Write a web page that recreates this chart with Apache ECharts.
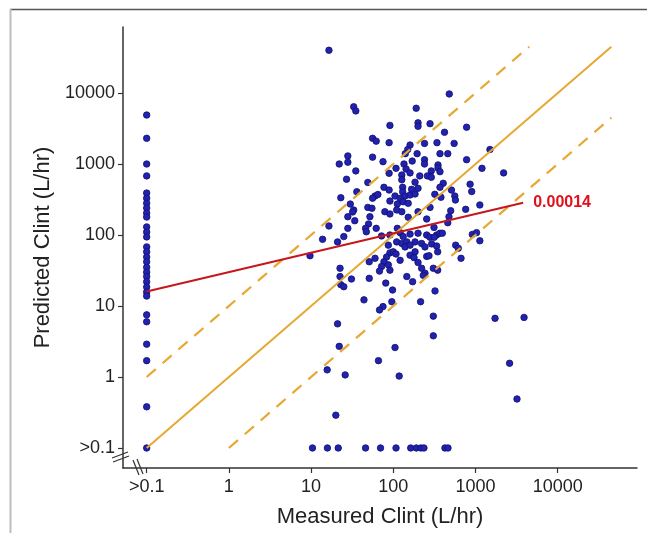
<!DOCTYPE html>
<html>
<head>
<meta charset="utf-8">
<script src="https://cdn.jsdelivr.net/npm/echarts@6/dist/echarts.min.js"></script>
<style>
html, body { margin: 0; padding: 0; background: #fff; }
#chart { width: 647px; height: 533px; }
</style>
</head>
<body>
<div id="chart"></div>
<script>
// ticks of both log axes
const tickValues = [0.1, 1, 10, 100, 1000, 10000];
const tickLabels = ['>0.1', '1', '10', '100', '1000', '10000'];

// compounds with both values measured (L/hr)
const measured = [
    16.5, 480, 33, 35, 190, 91, 200, 200, 280, 780,
    420, 56, 62, 89, 160, 240, 340, 550, 1500, 150,
    140, 195, 370, 460, 28, 56, 22, 28, 75, 170,
    240, 240, 135, 780, 350, 350, 108, 143, 160, 35,
    89, 290, 370, 1200, 2200, 127, 127, 210, 260, 290,
    27, 49, 184, 405, 370, 860, 900, 510, 77, 89,
    130, 130, 167, 200, 36, 60, 65, 56, 105, 121,
    139, 160, 184, 23, 320, 380, 560, 570, 30, 91,
    112, 132, 152, 1130, 49, 55, 33, 79, 110, 127,
    200, 280, 500, 760, 28, 34, 32, 52, 50, 46,
    91, 16.5, 28, 62, 112, 152, 47, 13.8, 25, 21,
    72, 91, 121, 132, 160, 200, 255, 110, 127, 146,
    184, 221, 139, 160, 87, 243, 91, 83, 77, 72,
    68, 100, 108, 121, 184, 160, 179, 255, 51, 60,
    9.7, 87, 91, 200, 221, 243, 22.5, 22.5, 31, 51,
    146, 172, 23, 25, 81, 98, 44, 96, 75, 68,
    21, 476, 255, 460, 313, 337, 370, 395, 279, 315,
    915, 1030, 1130, 293, 337, 574, 618, 347, 272, 667,
    307, 347, 232, 322, 215, 307, 307, 22, 15.7, 26,
    20, 66, 105, 118, 1730, 3900, 2600, 3200
];
const predicted = [
    40000, 9700, 6400, 5600, 6100, 3500, 3800, 3400, 3700, 3300,
    2800, 2300, 2100, 2000, 1850, 1950, 2000, 1950, 1600, 1600,
    1400, 1400, 1400, 1400, 1300, 1250, 1000, 1060, 1080, 1100,
    1150, 1000, 1000, 1150, 970, 880, 870, 850, 750, 800,
    740, 800, 780, 870, 750, 700, 600, 680, 680, 650,
    610, 550, 555, 535, 470, 520, 410, 430, 470, 430,
    470, 407, 440, 455, 407, 354, 372, 330, 354, 329,
    354, 366, 378, 335, 374, 340, 354, 311, 273, 301,
    273, 294, 279, 265, 245, 238, 225, 213, 225, 213,
    213, 245, 220, 230, 181, 159, 211, 181, 143, 124,
    198, 134, 124, 124, 124, 178, 111, 87, 95, 80,
    97, 100, 108, 95, 103, 106, 100, 80, 76, 80,
    80, 76, 68, 72, 72, 68, 56, 49, 42, 36,
    31, 58, 54, 44, 58, 52, 48, 50, 42, 47,
    51, 38, 32, 41, 34, 29, 34, 26, 24, 24.5,
    26, 22, 20, 18.7, 21, 16.8, 12.2, 11.5, 9.8, 8.8,
    5.6, 181, 168, 149, 128, 100, 106, 106, 93, 93,
    102, 108, 83, 75, 70, 72, 65, 58, 51, 47,
    34, 32, 27, 16.3, 11.5, 7.2, 3.8, 2.7, 1.26, 1.07,
    0.29, 1.7, 2.6, 1.03, 6.7, 6.9, 1.56, 0.49
];

// measured below 0.1 -> drawn at 0.1
const censoredMeasuredPred = [
    4900, 2300, 1000, 680, 390, 330, 280, 240, 204, 179,
    130, 110, 94, 68, 58, 49, 42, 35, 30, 26,
    22, 18.5, 15.7, 13.8, 7.5, 6, 2.9, 1.7, 0.38, 0.1
];
// predicted below 0.1 -> drawn at 0.1
const censoredPredictedMeas = [10.4, 15.8, 21.4, 46, 70, 108, 163, 191, 217, 236, 425, 463];

// unity line, 10-fold lines and the fitted line
const unityLine = [[0.1, 0.1], [45000, 45000]];
const upperFold = [[0.1, 1], [4500, 45000]];
const lowerFold = [[1, 0.1], [45000, 4500]];
const fitLine = [[0.1, 16], [3800, 285]];
const fitLabel = '0.00014';

const lg = v => Math.log10(v);
const toLog = pts => pts.map(p => [lg(p[0]), lg(p[1])]);
const labelFor = v => {
    const i = tickValues.findIndex(t => Math.abs(lg(t) - v) < 1e-6);
    return i < 0 ? '' : tickLabels[i];
};

const points = measured.map((m, i) => [m, predicted[i]])
    .concat(censoredMeasuredPred.map(p => [0.1, p]))
    .concat(censoredPredictedMeas.map(m => [m, 0.1]));

const font = '"Liberation Sans", Arial, sans-serif';
const axisBase = {
    type: 'value',
    nameLocation: 'middle',
    nameTextStyle: { fontSize: 22, color: '#222', fontFamily: font },
    axisLine: { show: true, onZero: false, lineStyle: { color: '#333', width: 1.5 } },
    axisTick: { show: true, length: 5, lineStyle: { color: '#333', width: 1.2 }, customValues: tickValues.map(lg) },
    axisLabel: { customValues: tickValues.map(lg), formatter: labelFor, color: '#222', fontSize: 18, fontFamily: font },
    splitLine: { show: false }
};

const chart = echarts.init(document.getElementById('chart'));
chart.setOption({
    animation: false,
    backgroundColor: '#fff',
    grid: { left: 123, right: 10, top: 27, bottom: 65, containLabel: false, outerBoundsMode: 'none' },
    xAxis: Object.assign({}, axisBase, {
        name: 'Measured Clint (L/hr)', nameGap: 38,
        min: -1.288, max: 4.965,
        axisLabel: Object.assign({}, axisBase.axisLabel, { margin: 10 })
    }),
    yAxis: Object.assign({}, axisBase, {
        name: 'Predicted Clint (L/hr)', nameGap: 68,
        min: -1.282, max: 4.93,
        axisLabel: Object.assign({}, axisBase.axisLabel, { margin: 8 })
    }),
    graphic: [
        // frame of the original screenshot
        { type: 'line', shape: { x1: 10, y1: 9.5, x2: 647, y2: 9.5 }, style: { stroke: '#555', lineWidth: 1.5 } },
        { type: 'line', shape: { x1: 10.5, y1: 9, x2: 10.5, y2: 533 }, style: { stroke: '#bdbdbd', lineWidth: 2 } },
        // axis break marks
        { type: 'line', shape: { x1: 112, y1: 458, x2: 128, y2: 452 }, style: { stroke: '#333', lineWidth: 1.2 } },
        { type: 'line', shape: { x1: 113, y1: 462, x2: 129, y2: 456 }, style: { stroke: '#333', lineWidth: 1.2 } },
        { type: 'line', shape: { x1: 133, y1: 460, x2: 139, y2: 475 }, style: { stroke: '#333', lineWidth: 1.2 } },
        { type: 'line', shape: { x1: 137, y1: 459, x2: 143, y2: 474 }, style: { stroke: '#333', lineWidth: 1.2 } }
    ],
    series: [
        {
            type: 'scatter',
            data: toLog(points),
            symbolSize: 6.5,
            itemStyle: { color: '#2222b0', borderColor: '#10106e', borderWidth: 0.8, opacity: 1 }
        },
        {
            type: 'line', data: toLog(unityLine), showSymbol: false, silent: true,
            lineStyle: { color: '#e6a832', width: 2 }
        },
        {
            type: 'line', data: toLog(upperFold), showSymbol: false, silent: true,
            lineStyle: { color: '#e6a832', width: 2.2, type: [12, 9] }
        },
        {
            type: 'line', data: toLog(lowerFold), showSymbol: false, silent: true,
            lineStyle: { color: '#e6a832', width: 2.2, type: [12, 9] }
        },
        {
            type: 'line', data: toLog(fitLine), showSymbol: false, silent: true,
            lineStyle: { color: '#c8161d', width: 2 },
            endLabel: {
                show: true, formatter: fitLabel, distance: 10,
                color: '#e0101c', fontSize: 16, fontWeight: 'bold', fontFamily: font
            }
        }
    ]
});
</script>
</body>
</html>
